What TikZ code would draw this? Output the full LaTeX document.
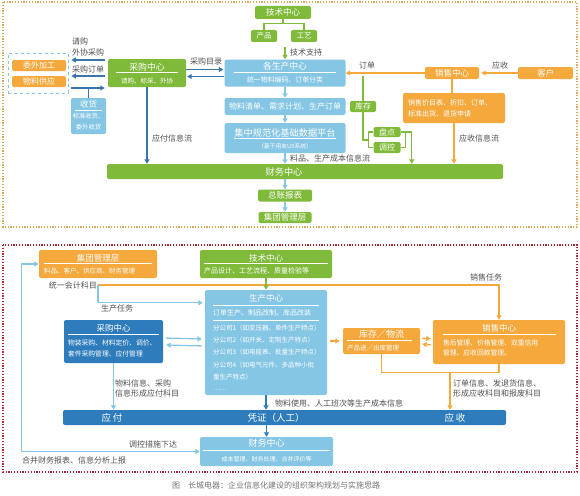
\documentclass[tikz,border=0pt]{standalone}
\usepackage{fontspec}
\setmainfont{Noto Sans CJK SC}
\usetikzlibrary{arrows.meta,calc}
\definecolor{cgreen}{RGB}{128,186,58}
\definecolor{cblue}{RGB}{133,198,229}
\definecolor{cdblue}{RGB}{46,124,188}
\definecolor{cablue}{RGB}{58,116,172}
\definecolor{corange}{RGB}{245,168,60}
\definecolor{cgray}{RGB}{80,80,80}
\definecolor{ctframe}{RGB}{222,168,92}
\definecolor{crframe}{RGB}{178,34,52}
\newcommand{\fsz}[1]{\fontsize{#1}{#1}\selectfont}
\begin{document}
\begin{tikzpicture}[x=1pt,y=-1pt,
    box/.style={rounded corners=2pt,inner sep=0pt,text=white},
    sz/.style 2 args={minimum width=#1pt,minimum height=#2pt},
    gbox/.style={box,fill=cgreen},
    bbox/.style={box,fill=cblue},
    dbox/.style={box,fill=cdblue},
    obox/.style={box,fill=corange},
    ttl/.style={text=white,inner sep=0pt,font=\fsz{8.5}},
    sub/.style={text=white,inner sep=0pt,font=\fsz{6.5}},
    wline/.style={white,line width=0.8pt},
    lbl/.style={text=cgray,inner sep=0pt,font=\fsz{8}},
    arr/.style={line width=1.3pt,-{Triangle[length=4.5pt,width=5pt]}},
    garr/.style={arr,cgreen}, gline/.style={line width=1.3pt,cgreen},
    lbarr/.style={arr,cblue}, lbline/.style={line width=1.3pt,cblue},
    barr/.style={arr,cablue}, bline/.style={line width=1.3pt,cablue},
    darr/.style={arr,cdblue},
    oarr/.style={arr,corange}, oline/.style={line width=1.3pt,corange},
    frame/.style={line width=1.2pt,dash pattern=on 1.2pt off 1.6pt}]
    \useasboundingbox (0,0) rectangle (580,495);

    % top: organisation
    \draw[frame,ctframe] (3,2) rectangle (577,227);
    \node[gbox,sz={56}{13},font=\fsz{8.5}] (tech) at (283,12.5) {技术中心};
    \node[gbox,sz={26}{12},font=\fsz{7.5}] (prod) at (264,36) {产品};
    \node[gbox,sz={26}{12},font=\fsz{7.5}] (craft) at (304,36) {工艺};
    \draw[gline] (tech.south) -- ++(0,4.5) -| (prod.north);
    \draw[gline] (tech.south) -- ++(0,4.5) -| (craft.north);

    \node[bbox,sz={121}{27}] (gsc) at (285,73) {};
    \node[ttl,font=\fsz{8.8}] (gsct) at ($(gsc.north)+(0,7)$) {各生产中心};
    \draw[wline] ($(gsc.north west)+(10,13.5)$) -- ($(gsc.north east)+(-10,13.5)$);
    \node[sub,font=\fsz{6.9}] (gscs) at ($(gsc.north)+(0,21)$) {统一物料编码、订单分类};
    \coordinate (tsup) at (285,47);
    \draw[garr] (tsup) -- (tsup |- gsc.north);
    \node[lbl,anchor=west] (tsupl) at (290,52.5) {技术支持};

    \node[bbox,sz={121}{17},font=\fsz{8}] (bom) at (285,106.5) {物料清单、需求计划、生产订单};
    \node[bbox,sz={121}{30}] (plat) at (285,138) {};
    \node[ttl,font=\fsz{9.2}] (platt) at ($(plat.north)+(0,10)$) {集中规范化基础数据平台};
    \draw[wline] ($(plat.north west)+(10,16)$) -- ($(plat.north east)+(-10,16)$);
    \node[sub,font=\fsz{5.8}] (plats) at ($(plat.north)+(0,23)$) {（基于用友U9系统）};
    \draw[lbarr] (gsc.south) -- (bom.north);
    \draw[lbarr] (bom.south) -- (plat.north);

    \node[gbox,sz={396}{15}] (fin) at (305,171.5) {};
    \node[ttl,font=\fsz{9.2}] (fint) at (284,171.5) {财务中心};
    \draw[lbarr] (plat.south) -- (plat.south |- fin.north);
    \node[lbl,anchor=west] (platl) at (290,158.5) {料品、生产成本信息流};
    \node[gbox,sz={54}{12},font=\fsz{8.5}] (ledger) at (285,195.5) {总账报表};
    \node[gbox,sz={53}{11},font=\fsz{8.5}] (tgrp) at (285,217.5) {集团管理层};
    \draw[lbarr] (ledger.north |- fin.south) -- (ledger.north);
    \draw[lbarr] (ledger.south) -- (tgrp.north);

    \node[gbox,sz={78}{28}] (purch) at (147,73) {};
    \node[ttl,font=\fsz{8.8}] (purcht) at ($(purch.north)+(0,8)$) {采购中心};
    \draw[wline] ($(purch.north west)+(8,13.5)$) -- ($(purch.north east)+(-8,13.5)$);
    \node[sub] (purchs) at ($(purch.north)+(0,22)$) {请购、标采、外协};
    \draw[barr,shorten >=1pt] ([yshift=3.5pt]purch.east) -- ([yshift=3.5pt]gsc.west);
    \draw[barr,shorten >=1pt] ([yshift=-3.5pt]gsc.west) -- ([yshift=-3.5pt]purch.east);
    \node[lbl,anchor=west] (catl) at (190,61) {采购目录};

    \node[draw=cblue,dashed,line width=0.8pt,sz={60}{40}] (supp) at (38,73) {};
    \node[obox,sz={54}{11},font=\fsz{8}] (wai) at (39,65.5) {委外加工};
    \node[obox,sz={54}{11},font=\fsz{8}] (mat) at (39,81.5) {物料供应};
    \draw[barr,shorten <=3pt,shorten >=3pt] ([yshift=13pt]purch.west) -- ([yshift=13pt]supp.east);
    \draw[barr,shorten <=3pt,shorten >=3pt] ([yshift=-3pt]purch.west) -- ([yshift=-3pt]supp.east);
    \draw[barr,shorten <=3pt,shorten >=3pt] ([yshift=-15pt]supp.east) -- ([yshift=-15pt]purch.west);
    \node[lbl,anchor=west] (reql) at (72,41) {请购};
    \node[lbl,anchor=west] (outl) at (72,52) {外协采购};
    \node[lbl,anchor=west] (pol) at (72,69) {采购订单};

    \node[bbox,sz={35}{36}] (recv) at (88.5,116) {};
    \node[ttl] (recvt) at ($(recv.north)+(0,6.5)$) {收货};
    \draw[wline,line width=0.5pt] ($(recv.north west)+(4,12)$) -- ($(recv.north east)+(-4,12)$);
    \node[sub,align=center,font=\fontsize{6.3}{10.5}\selectfont] (recvs) at ($(recv.north)+(0,24)$) {标准收货、\\委外收货};
    \coordinate (rin) at (88.5,88);
    \draw[bline] (rin) -- (recv.north);
    \draw[barr] (purch.south) -- (purch.south |- fin.north);
    \node[lbl,anchor=west] (payl) at (152,138) {应付信息流};

    \node[obox,sz={54}{12},font=\fsz{8.5}] (sales) at (452,73) {销售中心};
    \node[obox,sz={55}{12},font=\fsz{8.5}] (cust) at (545.5,73) {客户};
    \draw[oarr,shorten >=2pt] (cust.west) -- (sales.east);
    \node[lbl] (arl) at (500,65) {应收};
    \draw[oarr] (sales.west) -- (gsc.east);
    \node[lbl] (ordl) at (367,65) {订单};
    \node[obox,sz={102}{30},text width=92pt,align=left,font=\fontsize{7}{11}\selectfont] (sinfo) at (454,108) {销售价目表、折扣、订单、\\标准出货、退货申请};
    \draw[oline] (sales.south) -- (sales.south |- sinfo.north);
    \draw[oarr] (sinfo.south) -- (sinfo.south |- fin.north);
    \node[lbl,anchor=west] (arfl) at (459,138) {应收信息流};

    \coordinate (ordg) at (363,76);
    \node[gbox,sz={26}{11},font=\fsz{8}] (stock) at (363,106.5) {库存};
    \node[gbox,sz={27}{10},font=\fsz{8}] (pd) at (387,132) {盘点};
    \node[gbox,sz={27}{11},font=\fsz{8}] (tk) at (387,147.5) {调控};
    \coordinate (brk) at (368.5,140);
    \draw[gline] (ordg) -- (stock.north);
    \draw[gline] (stock.south) |- (brk);
    \draw[gline] (pd.west) -- ++(-5,0) |- (tk.west);
    \draw[gline] (pd.east) -- ++(5,0) |- (tk.east);
    \draw[garr] ([xshift=5pt]pd.east) -- ++(6,0) coordinate (pdo) -- (pdo |- fin.north);

    % bottom: system
    \draw[frame,crframe] (3,245) rectangle (577,472);
    \node[obox,sz={118}{28}] (bgrp) at (98,264) {};
    \node[ttl] (bgrpt) at ($(bgrp.north)+(0,8)$) {集团管理层};
    \draw[wline] ($(bgrp.north west)+(5,14)$) -- ($(bgrp.north east)+(-5,14)$);
    \node[sub,anchor=west] (bgrps) at ($(bgrp.north west)+(5,21)$) {料品、客户、供应商、财务管理};

    \node[gbox,sz={132}{28}] (btech) at (266,264) {};
    \node[ttl] (btecht) at ($(btech.north)+(0,8)$) {技术中心};
    \draw[wline] ($(btech.north west)+(4,14)$) -- ($(btech.north east)+(-4,14)$);
    \node[sub,anchor=west,font=\fsz{7}] (btechs) at ($(btech.north west)+(4,21)$) {产品设计、工艺流程、质量检验等};

    \node[bbox,sz={122}{105}] (bprod) at (266,342.5) {};
    \node[ttl] (bprodt) at ($(bprod.north)+(0,8)$) {生产中心};
    \draw[wline] ($(bprod.north west)+(8,16)$) -- ($(bprod.north east)+(-8,16)$);
    \node[sub,anchor=west,font=\fsz{7}] (bprods) at ($(bprod.north west)+(8,23)$) {订单生产、制品改制、库品改装};
    \draw[wline] ($(bprod.north west)+(8,31)$) -- ($(bprod.north east)+(-8,31)$);
    \foreach \t [count=\i] in {分公司1（如变压器、单件生产特点）, 分公司2（如开关、定制生产特点）, 分公司3（如电能表、批量生产特点）, 分公司4（如电气元件、多品种小批, 量生产特点）, ……}
        \node[sub,anchor=west] (br\i) at ($(bprod.north west)+(8,25.5+12.4*\i)$) {\t};

    \node[dbox,sz={99}{43}] (bpur) at (113.5,341.5) {};
    \node[ttl] (bpurt) at ($(bpur.north)+(0,8)$) {采购中心};
    \draw[wline] ($(bpur.north west)+(4,15)$) -- ($(bpur.north east)+(-4,15)$);
    \node[sub,anchor=west,align=left,font=\fontsize{6.8}{11}\selectfont] (bpurs) at ($(bpur.north west)+(4,28.5)$) {物装采购、材料定价、调价、\\套件采购管理、应付管理};

    \node[obox,sz={77}{26}] (bstock) at (381.5,341) {};
    \node[ttl,font=\fsz{9}] (bstockt) at ($(bstock.north)+(0,6)$) {库存／物流};
    \draw[wline] ($(bstock.north west)+(4,13)$) -- ($(bstock.north east)+(-8,13)$);
    \node[sub,anchor=west] (bstocks) at ($(bstock.north west)+(4,20)$) {产品进／出库管理};

    \node[obox,sz={132}{44}] (bsales) at (499,342) {};
    \node[ttl] (bsalest) at ($(bsales.north)+(0,8)$) {销售中心};
    \draw[wline] ($(bsales.north west)+(10,15)$) -- ($(bsales.north east)+(-9,15)$);
    \node[sub,anchor=west,align=left,font=\fontsize{6.8}{10.5}\selectfont] (bsaless) at ($(bsales.north west)+(10,28)$) {售后管理、价格管理、双重信用\\管理、应收回款管理。};

    \node[dbox,sz={443}{15}] (bar) at (284.5,417.5) {};
    \node[ttl,font=\fsz{9.5}] (bar1) at (112,417.5) {应\,付};
    \node[ttl,font=\fsz{9.5}] (bar2) at (276,417.5) {凭证（人工）};
    \node[ttl,font=\fsz{9.5}] (bar3) at (455,417.5) {应\,收};

    \node[bbox,sz={133}{29}] (bfin) at (266.5,451.5) {};
    \node[ttl,font=\fsz{9}] (bfint) at ($(bfin.north)+(0,6.5)$) {财务中心};
    \draw[wline] ($(bfin.north west)+(3,14)$) -- ($(bfin.north east)+(-3,14)$);
    \node[sub,font=\fsz{6}] (bfins) at ($(bfin.north)+(0,22)$) {成本管理、财务处理、合并评价等};

    \coordinate (acct) at (98,285);
    \node[lbl,anchor=east] (acctl) at ($(acct)+(-1,0)$) {统一会计科目};
    \draw[oarr] (acct) -| (bsales.north);
    \node[lbl] (stask) at (486,277) {销售任务};
    \draw[lbarr,shorten >=2pt] (acct) |- ([yshift=-13pt]bprod.north west);
    \node[lbl] (ptask) at (117,308) {生产任务};
    \draw[garr] (btech.south) -- (bprod.north);
    \draw[lbarr,shorten <=3pt,shorten >=3pt] ([yshift=3.5pt]bpur.east) -- ([yshift=3.5pt]bprod.west);
    \draw[lbarr,shorten <=3pt,shorten >=3pt] ([yshift=-3.5pt]bprod.west) -- ([yshift=-3.5pt]bpur.east);
    \draw[oarr,shorten <=3pt,shorten >=3pt] (bprod.east |- bstock.west) -- (bstock.west);
    \draw[oarr,shorten <=2pt,shorten >=2pt] ([yshift=3pt]bstock.east) -- ([yshift=3pt]bsales.west);
    \draw[oarr,shorten <=2pt,shorten >=2pt] ([yshift=-3pt]bsales.west) -- ([yshift=-3pt]bstock.east);
    \draw[oline] (bstock.south) -- ++(0,18) -| (bsales.south);
    \coordinate (oinf) at (450,372);
    \draw[oarr] (oinf) -- (oinf |- bar.north);
    \node[lbl,anchor=west,align=left,font=\fontsize{8}{10}\selectfont] (oinfl) at (453,388) {订单信息、发退货信息、\\形成应收科目和报废科目};
    \draw[lbarr] (bpur.south) -- (bpur.south |- bar.north);
    \node[lbl,anchor=west,align=left,font=\fontsize{8}{10}\selectfont] (minfl) at (115,388) {物料信息、采购\\信息形成应付科目};
    \draw[darr] (bprod.south) -- (bprod.south |- bar.north);
    \node[lbl,anchor=west] (cinfl) at (275,403) {物料使用、人工班次等生产成本信息};
    \draw[darr] (bfin.north |- bar.south) -- (bfin.north);
    \draw[lbline,{Triangle[length=4.5pt,width=5pt]}-{Triangle[length=4.5pt,width=5pt]}] (bgrp.west) -- ++(-17,0) |- (bfin.west);
    \node[lbl] (ctrl) at (153,444) {调控措施下达};
    \node[lbl,anchor=west] (rep) at (22,460) {合并财务报表、信息分析上报};

    \node[lbl,text=cgray!80,font=\fsz{8}] (caption) at (276,485) {图\quad 长城电器：企业信息化建设的组织架构规划与实施思路};
\end{tikzpicture}
\end{document}
